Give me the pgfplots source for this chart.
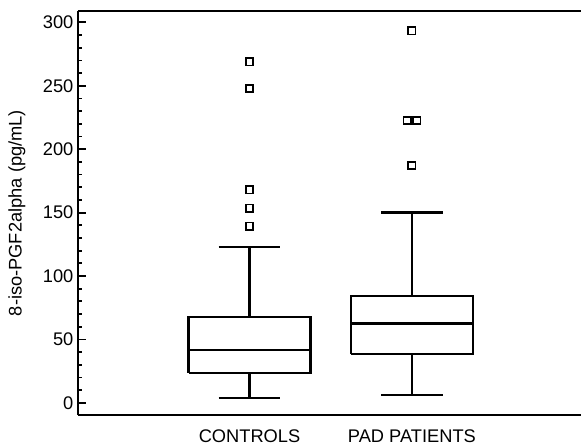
\documentclass[border=0pt]{standalone}
\usepackage{fontspec}
\setmainfont{Liberation Sans}
\usepackage{pgfplots}
\pgfplotsset{compat=1.18}
\pgfplotsset{boxline/.style={black, solid, line width=2.3pt, no marks}}

\begin{document}
\begin{tikzpicture}
\begin{axis}[
  name=main,
  scale only axis,
  width=504bp, height=405bp,
  font=\fontsize{18.3bp}{22bp}\selectfont,
  xmin=-1.057, xmax=2.04,
  ymin=-9.7, ymax=309,
  axis lines=left,
  axis line style={line width=2.4pt, -},
  xtick={0,1},
  xticklabels={CONTROLS, PAD PATIENTS},
  xtick style={draw=none},
  x tick label style={yshift=-11bp},
  ytick={0,50,100,150,200,250,300},
  yticklabels={0,50,100,150,200,250,300},
  minor y tick num=4,
  tick align=inside,
  major tick length=8bp,
  minor tick length=4.5bp,
  y tick style={black, line width=1.8pt},
  y tick label style={xshift=-1bp},
  ylabel={8-iso-PGF2alpha (pg/mL)},
  ylabel style={at={(axis description cs:-0.121,0.5)}, anchor=center},
  clip=false,
]

% controls: box, median, whiskers, caps
\addplot[boxline] coordinates {(-0.375,23.6)(0.375,23.6)(0.375,67.7)(-0.375,67.7)(-0.375,23.6)};
\addplot[boxline] coordinates {(-0.375,41.5)(0.375,41.5)};
\addplot[boxline] coordinates {(0,67.7)(0,122.8)};
\addplot[boxline] coordinates {(0,23.6)(0,3.7)};
\addplot[boxline] coordinates {(-0.19,122.8)(0.19,122.8)};
\addplot[boxline] coordinates {(-0.19,3.7)(0.19,3.7)};

% PAD patients
\addplot[boxline] coordinates {(0.625,38.6)(1.375,38.6)(1.375,84.3)(0.625,84.3)(0.625,38.6)};
\addplot[boxline] coordinates {(0.625,62.5)(1.375,62.5)};
\addplot[boxline] coordinates {(1,84.3)(1,150)};
\addplot[boxline] coordinates {(1,38.6)(1,6.3)};
\addplot[boxline] coordinates {(0.81,150)(1.19,150)};
\addplot[boxline] coordinates {(0.81,6.3)(1.19,6.3)};

% outliers
\addplot[black, only marks, mark=square, mark size=3.7pt,
  mark options={solid, line width=1.6pt}]
  coordinates {(0,139.4)(0,153.5)(0,168)(0,247.8)(0,268.8)
    (1,187.2)(0.972,222.6)(1.030,222.6)(1,293.5)};

\draw[line width=2.4pt] (rel axis cs:0,1) -- (rel axis cs:1,1);
\end{axis}
\path ([xshift=-78bp,yshift=11bp]main.north west) (main.south east) ++(0,-32bp);
\end{tikzpicture}
\end{document}
